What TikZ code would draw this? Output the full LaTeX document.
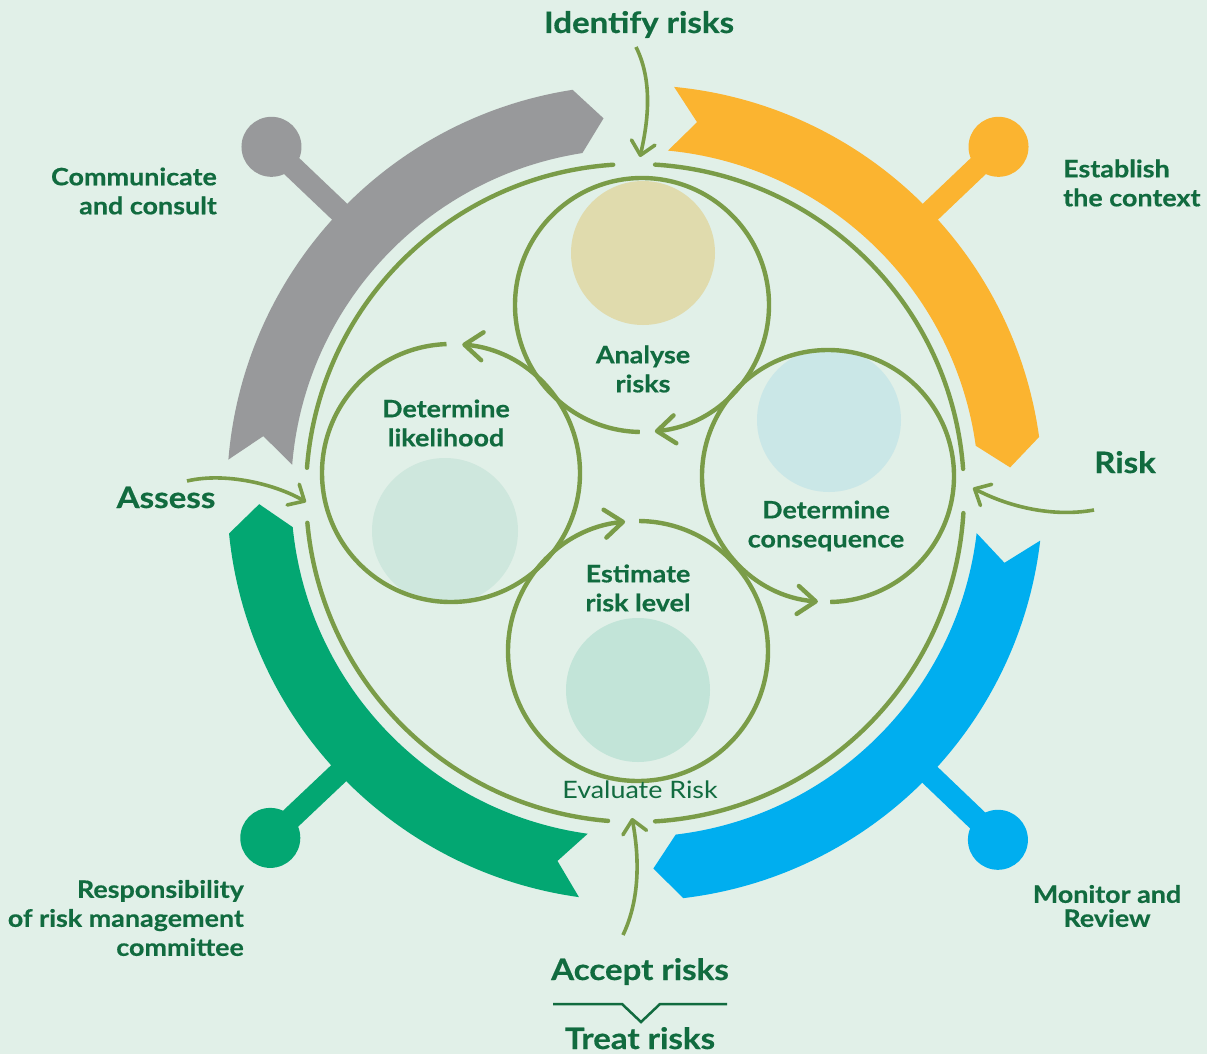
\documentclass[tikz,border=0pt]{standalone}
\usepackage{fontspec}
\setmainfont{Lato}[FakeStretch=1.12,BoldFeatures={FakeBold=0.5}]
\usetikzlibrary{arrows.meta}
\definecolor{bg}{HTML}{E1F0E8}
\definecolor{ln}{HTML}{7A9C48}
\definecolor{tx}{HTML}{116B3F}
\definecolor{cgray}{HTML}{98999B}
\definecolor{corange}{HTML}{FBB430}
\definecolor{cblue}{HTML}{00AEEF}
\definecolor{cgreen}{HTML}{03A772}
\definecolor{ftan}{HTML}{E0DBAD}
\definecolor{fblue}{HTML}{CAE7E7}
\definecolor{fgreen}{HTML}{CEE7DD}
\definecolor{fteal}{HTML}{C2E4D8}
\newcommand\myband[3]{%
  \fill[#1] (#2:408) arc[start angle=#2,end angle=#3,radius=408] -- ({#3+4}:376) -- (#3:344)
    arc[start angle=#3,end angle=#2,radius=344] -- ({#2+4}:376) -- cycle;}
\newcommand\myknob[2]{%
  \draw[#1,line width=22pt] (#2:395) -- (#2:502);
  \fill[#1] (#2:502) circle[radius=30];}
\begin{document}
\begin{tikzpicture}[x=1pt,y=-1pt,
  lbl/.style={text=tx,font=\bfseries\fontsize{24}{29}\selectfont,align=center,inner sep=0pt},
  big/.style={text=tx,font=\bfseries\fontsize{29.5}{36}\selectfont,inner sep=0pt,anchor=base},
  ring/.style={draw=ln,line width=4.4pt,line cap=round},
  cyc/.style={draw=ln,line width=4.4pt,-{Straight Barb[length=18pt,width=28pt,round]}},
  outarr/.style={draw=ln,line width=3.6pt,-{Straight Barb[length=13pt,width=24pt,round]}},
]
\fill[bg] (0,0) rectangle (1207,1054);
\useasboundingbox (0,0) rectangle (1207,1054);

% coloured bands with knobs
\begin{scope}[shift={(635,493)}]
  \myknob{cgray}{223.6}
  \myknob{corange}{316.4}
  \myknob{cblue}{43.7}
  \myknob{cgreen}{136.6}
  \myband{cgray}{184.7}{261.2}
  \myband{corange}{275.5}{352.1}
  \myband{cblue}{6.7}{83.2}
  \myband{cgreen}{97.9}{174.3}
  % outer ring with four gaps
  \draw[ring] (3.5:329) arc[start angle=3.5,end angle=86.5,radius=329];
  \draw[ring] (94.7:329) arc[start angle=94.7,end angle=174.8,radius=329];
  \draw[ring] (184.4:329) arc[start angle=184.4,end angle=266.2,radius=329];
  \draw[ring] (273.5:329) arc[start angle=273.5,end angle=355.8,radius=329];
\end{scope}

% centres of the four inner circles
\coordinate (cA) at (642,305);
\coordinate (cL) at (451,473);
\coordinate (cC) at (828,476);
\coordinate (cE) at (638,651);

% pale discs
\fill[ftan] (643,253) circle[radius=72];
\fill[fblue] (829,420) circle[radius=72];
\fill[fgreen] (445,531) circle[radius=73];
\fill[fteal] (638,690) circle[radius=72];

% cycle circles
\draw[cyc] (cA) ++(91:127) arc[start angle=91,end angle=444.2,radius=127];
\draw[cyc] (cL) ++(268:129) arc[start angle=268,end angle=-85,radius=129];
\draw[cyc] (cE) ++(270.5:130) arc[start angle=270.5,end angle=624.3,radius=130];
\draw[cyc] (cC) ++(89:126) arc[start angle=89,end angle=-265.4,radius=126];

% inner labels
\node[lbl] (analyse) at (643,369) {Analyse\\risks};
\node[lbl] (likelihood) at (446,423) {Determine\\likelihood};
\node[lbl] (consequence) at (826,526) {Determine\\consequence};
\node[lbl] (estimate) at (638,588) {Estimate\\risk level};
\node[text=tx,font=\fontsize{24}{29}\selectfont,inner sep=0pt] (evaluate) at (640,790) {Evaluate Risk};

% outer labels
\node[big] (identify) at (639,33) {Identify risks};
\node[big] (risk) at (1125,473) {Risk};
\node[big] (assess) at (166,508) {Assess};
\node[big] (accept) at (640,980) {Accept risks};
\node[big] (treat) at (640,1049) {Treat risks};

\node[lbl,anchor=east,align=right] (communicate) at (217,191) {Communicate\\and consult};
\node[lbl,anchor=west,align=left] (establish) at (1063,183) {Establish\\the context};
\node[lbl,anchor=east,align=right] (responsibility) at (244,918) {Responsibility\\of risk management\\committee};
\node[lbl,font=\bfseries\fontsize{24}{24}\selectfont] (monitor) at (1107,906) {Monitor and\\Review};

% outer arrows
\coordinate (idT) at (636,47);  \coordinate (idH) at (640,157);
\coordinate (rkT) at (1094,510); \coordinate (rkH) at (973,488);
\coordinate (asT) at (187,481); \coordinate (asH) at (306,502);
\coordinate (acT) at (623,935); \coordinate (acH) at (632,818);
\draw[outarr] (idT) .. controls (655,85) and (646,130) .. (idH);
\draw[outarr] (rkT) .. controls (1050,518) and (1005,505) .. (rkH);
\draw[outarr] (asT) .. controls (225,472) and (275,484) .. (asH);
\draw[outarr] (acT) .. controls (642,895) and (638,850) .. (acH);

% divider between accept and treat
\draw[tx,line width=2.5pt] (553,1004) -- (622,1004) -- (641,1022) -- (660,1004) -- (727,1004);
\end{tikzpicture}
\end{document}
